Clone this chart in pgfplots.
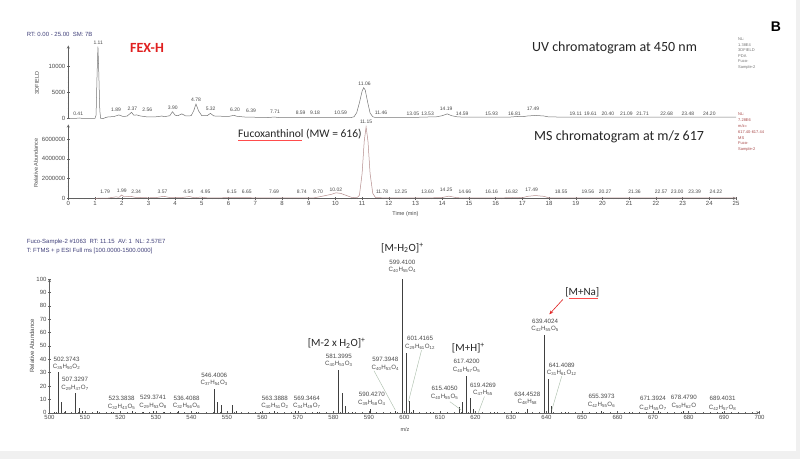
\documentclass[border=0pt]{standalone}
\usepackage{pgfplots}
\pgfplotsset{compat=1.18}
\usetikzlibrary{arrows.meta}
\usepackage{fontspec}
\setmainfont{Liberation Sans}
\newfontfamily\carl{Carlito}
\definecolor{axc}{HTML}{606060}
\definecolor{lbc}{HTML}{4A4A4A}
\definecolor{hdr}{HTML}{40407A}
\definecolor{uvc}{HTML}{757575}
\definecolor{msc}{HTML}{B48C8C}
\definecolor{nlred}{HTML}{A84848}
\definecolor{lead}{HTML}{A8BCA8}
\definecolor{fexred}{HTML}{E02020}
\newcommand\s[1]{\textsubscript{#1}}
\pgfplotsset{
  base/.style={scale only axis, clip=false, anchor=south west,
    axis line style={axc, line width=0.4pt, -},
    tick style={axc, line width=0.4pt},
    tick align=outside, major tick length=2.6pt, minor tick length=1.4pt,
    ticklabel style={font=\fontsize{6}{7}\selectfont, text=lbc, inner sep=1.5pt},
    /pgf/number format/assume math mode=true, scaled ticks=false},
}
\tikzset{
  plab/.style={font=\fontsize{5}{6}\selectfont, text=lbc, inner sep=0pt},
  slab/.style={font=\fontsize{6.2}{7}\selectfont, text=lbc, inner sep=0pt},
  big/.style={font=\carl\fontsize{11}{12}\selectfont, text=black!85, inner sep=0pt},
}
\begin{document}
\begin{tikzpicture}
\path[use as bounding box] (0,0) rectangle (800pt,459pt);
\fill[black!6] (0,0) rectangle (800pt,459pt);
\fill[white] (0,8.3pt) rectangle (796pt,459pt);

% UV chromatogram
\begin{axis}[base, at={(68.3pt,340.7pt)}, width=667.7pt, height=72.8pt,
  xmin=0, xmax=25, ymin=0, ymax=14000,
  axis x line=none, axis y line=left,
  ytick={0,5000,10000}, yticklabels={0,5000,10000}, minor y tick num=4]
\addplot[uvc, line width=0.5pt] coordinates {
(0,0) (0.3,0) (0.41,60) (0.5,0) (1.0,0) (1.04,600) (1.08,9000) (1.11,13800)
(1.14,9000) (1.18,1500) (1.21,0) (1.3,-50) (1.4,150) (1.5,280) (1.7,320)
(1.89,650) (2.05,350) (2.2,420) (2.37,1150) (2.45,600) (2.56,650) (2.7,450)
(2.9,300) (3.2,260) (3.4,350) (3.5,450) (3.6,300) (3.8,500) (3.9,1270)
(4.0,600) (4.1,500) (4.25,850) (4.4,450) (4.6,500) (4.7,1500) (4.78,2750)
(4.88,1400) (5.0,500) (5.2,500) (5.32,950) (5.45,450) (5.7,400) (6.0,350)
(6.2,580) (6.3,400) (6.39,350) (6.6,250) (7.0,200) (7.5,150) (7.71,250)
(7.9,130) (8.59,130) (9.18,120) (10.0,110) (10.59,150) (10.7,300) (10.8,1100)
(10.9,3000) (11.0,5200) (11.06,5900) (11.12,5400) (11.2,3300) (11.3,1000)
(11.4,300) (11.46,200) (11.6,160) (12.5,160) (13.05,190) (13.53,260) (13.8,300)
(14.0,500) (14.19,850) (14.35,500) (14.59,260) (15.0,220) (15.93,220) (16.5,220)
(16.81,350) (17.0,300) (17.2,450) (17.49,550) (17.8,450) (18.0,260) (19.11,220)
(20,220) (21,220) (22,220) (23,220) (24.2,220) (25,220)};
\node[plab] at (axis cs:0.37,830) {0.41};
\node[plab] at (axis cs:1.12,14540) {1.11};
\node[plab] at (axis cs:1.79,1600) {1.89};
\node[plab] at (axis cs:2.40,1850) {2.37};
\node[plab] at (axis cs:2.96,1600) {2.56};
\node[plab] at (axis cs:3.91,1980) {3.90};
\node[plab] at (axis cs:4.78,3520) {4.78};
\node[plab] at (axis cs:5.33,1790) {5.32};
\node[plab] at (axis cs:6.24,1600) {6.20};
\node[plab] at (axis cs:6.84,1400) {6.39};
\node[plab] at (axis cs:7.74,1210) {7.71};
\node[plab] at (axis cs:8.70,1020) {8.59};
\node[plab] at (axis cs:9.24,1020) {9.18};
\node[plab] at (axis cs:10.2,1020) {10.59};
\node[plab] at (axis cs:11.09,6730) {11.06};
\node[plab] at (axis cs:11.71,1080) {11.46};
\node[plab] at (axis cs:12.9,960) {13.05};
\node[plab] at (axis cs:13.45,960) {13.53};
\node[plab] at (axis cs:14.15,1920) {14.19};
\node[plab] at (axis cs:14.75,880) {14.59};
\node[plab] at (axis cs:15.85,960) {15.93};
\node[plab] at (axis cs:16.7,960) {16.81};
\node[plab] at (axis cs:17.4,1850) {17.49};
\node[plab] at (axis cs:19.0,830) {19.11};
\node[plab] at (axis cs:19.55,830) {19.61};
\node[plab] at (axis cs:20.2,830) {20.40};
\node[plab] at (axis cs:20.9,830) {21.09};
\node[plab] at (axis cs:21.5,830) {21.71};
\node[plab] at (axis cs:22.4,830) {22.68};
\node[plab] at (axis cs:23.2,830) {23.48};
\node[plab] at (axis cs:24.0,830) {24.20};
\end{axis}

% MS chromatogram
\begin{axis}[base, at={(68.3pt,260.7pt)}, width=667.7pt, height=73.9pt,
  xmin=0, xmax=25, ymin=0, ymax=7500000,
  axis x line=bottom, axis y line=left,
  xtick={0,1,...,25}, minor x tick num=4,
  ytick={0,2000000,4000000,6000000}, yticklabels={0,2000000,4000000,6000000},
  minor y tick num=4]
\addplot[msc, line width=0.5pt] coordinates {
(1.0,0) (1.5,30000) (1.79,150000) (1.9,100000) (1.99,330000) (2.1,150000)
(2.34,200000) (2.5,100000) (3.0,50000) (3.3,80000) (3.57,200000) (3.8,80000)
(4.2,60000) (4.54,180000) (4.7,60000) (4.95,120000) (5.2,50000) (6.15,60000)
(6.65,60000) (7.69,40000) (8.74,40000) (9.2,50000) (9.4,150000) (9.7,320000)
(9.85,400000) (10.02,560000) (10.2,500000) (10.4,300000) (10.6,100000)
(10.8,50000) (10.9,300000) (11.0,2500000) (11.08,5800000) (11.15,7250000)
(11.22,5800000) (11.3,2500000) (11.4,500000) (11.5,80000) (11.78,50000)
(12.25,40000) (13.6,50000) (14.0,80000) (14.25,220000) (14.5,80000)
(14.66,50000) (16.16,40000) (16.82,100000) (17.0,60000) (17.2,200000)
(17.49,280000) (17.8,200000) (18.0,50000) (18.55,40000) (25,40000)};
\node[plab] at (axis cs:1.38,670000) {1.79};
\node[plab] at (axis cs:2.0,790000) {1.99};
\node[plab] at (axis cs:2.54,670000) {2.34};
\node[plab] at (axis cs:3.53,670000) {3.57};
\node[plab] at (axis cs:4.49,670000) {4.54};
\node[plab] at (axis cs:5.14,670000) {4.95};
\node[plab] at (axis cs:6.12,670000) {6.15};
\node[plab] at (axis cs:6.68,670000) {6.65};
\node[plab] at (axis cs:7.70,670000) {7.69};
\node[plab] at (axis cs:8.74,670000) {8.74};
\node[plab] at (axis cs:9.35,670000) {9.70};
\node[plab] at (axis cs:10.02,900000) {10.02};
\node[plab] at (axis cs:11.15,7780000) {11.15};
\node[plab] at (axis cs:11.75,670000) {11.78};
\node[plab] at (axis cs:12.45,670000) {12.25};
\node[plab] at (axis cs:13.45,670000) {13.60};
\node[plab] at (axis cs:14.15,900000) {14.25};
\node[plab] at (axis cs:14.85,670000) {14.66};
\node[plab] at (axis cs:15.85,670000) {16.16};
\node[plab] at (axis cs:16.6,670000) {16.82};
\node[plab] at (axis cs:17.35,900000) {17.49};
\node[plab] at (axis cs:18.45,670000) {18.55};
\node[plab] at (axis cs:19.45,670000) {19.56};
\node[plab] at (axis cs:20.1,670000) {20.27};
\node[plab] at (axis cs:21.2,670000) {21.36};
\node[plab] at (axis cs:22.2,670000) {22.57};
\node[plab] at (axis cs:22.8,670000) {23.00};
\node[plab] at (axis cs:23.45,670000) {23.39};
\node[plab] at (axis cs:24.25,670000) {24.22};
\end{axis}

% mass spectrum
\begin{axis}[base, at={(49.5pt,46.3pt)}, width=710pt, height=133.7pt,
  xmin=500, xmax=700, ymin=0, ymax=100,
  axis x line=bottom, axis y line=left,
  xtick={500,510,...,700}, minor x tick num=4,
  ytick={0,10,...,100}, minor y tick num=4]
\addplot[ycomb, black!75, line width=0.55pt, mark=none] coordinates {
(501.4,0.8) (502.374,30.2) (503.38,7.8) (504.4,1.5) (507.33,15) (508.33,3.5)
(509.3,1) (513.4,1) (517.3,0.8) (523.38,1) (526.4,0.7) (529.37,1.2)
(532.4,0.7) (536.41,1) (541.4,0.8) (546.40,17.7) (547.40,8) (548.4,6)
(551.5,5.7) (552.5,1.2) (559.4,0.8) (563.39,1.5) (569.35,1.2) (575.4,0.8)
(581.40,32) (582.40,14.5) (583.40,5) (585.4,0.8) (590.43,3) (597.39,1.5)
(599.41,100) (600.41,45) (601.42,8.7) (602.42,2) (607.4,0.8) (615.41,4)
(616.41,8) (617.42,27.5) (618.42,10.8) (619.43,3) (625.4,0.8) (631.4,0.7)
(634.45,3) (639.40,58) (640.41,25) (641.41,5) (645.4,0.8) (655.40,1)
(663.4,0.6) (671.39,1) (678.48,1) (689.40,0.8)};
\draw[lead, line width=0.4pt] (axis cs:591.4,31.4) -- (axis cs:597.4,2);
\draw[lead, line width=0.4pt] (axis cs:604.8,46.8) -- (axis cs:601.1,8.2);
\draw[lead, line width=0.4pt] (axis cs:612.8,8.2) -- (axis cs:616.0,2);
\draw[lead, line width=0.4pt] (axis cs:622.5,12) -- (axis cs:620.8,0);
\draw[lead, line width=0.4pt] (axis cs:644.3,27.4) -- (axis cs:641.5,2);
\node[slab] at (axis cs:504.8,39.9) {502.3743};
\node[slab] at (axis cs:504.8,34.2) {C\s{35}H\s{50}O\s{2}};
\node[slab] at (axis cs:507.2,25.2) {507.3297};
\node[slab] at (axis cs:507.2,18.7) {C\s{29}H\s{47}O\s{7}};
\node[slab] at (axis cs:520.3,10.8) {523.3838};
\node[slab] at (axis cs:520.3,4.5) {C\s{32}H\s{43}O\s{5}};
\node[slab] at (axis cs:529.2,11.2) {529.3741};
\node[slab] at (axis cs:529.2,5) {C\s{29}H\s{53}O\s{8}};
\node[slab] at (axis cs:538.6,11) {536.4088};
\node[slab] at (axis cs:538.6,4.8) {C\s{32}H\s{56}O\s{6}};
\node[slab] at (axis cs:546.4,28.2) {546.4006};
\node[slab] at (axis cs:546.4,22) {C\s{37}H\s{54}O\s{3}};
\node[slab] at (axis cs:563.5,10.8) {563.3888};
\node[slab] at (axis cs:563.5,4.8) {C\s{40}H\s{51}O\s{2}};
\node[slab] at (axis cs:572.5,11) {569.3464};
\node[slab] at (axis cs:572.5,4.8) {C\s{34}H\s{49}O\s{7}};
\node[slab] at (axis cs:581.5,42.4) {581.3995};
\node[slab] at (axis cs:581.5,36.2) {C\s{40}H\s{53}O\s{3}};
\node[slab] at (axis cs:590.8,13.8) {590.4270};
\node[slab] at (axis cs:590.8,7.5) {C\s{39}H\s{58}O\s{4}};
\node[slab] at (axis cs:594.6,39.9) {597.3948};
\node[slab] at (axis cs:594.6,33.7) {C\s{40}H\s{53}O\s{4}};
\node[slab] at (axis cs:599.41,112.7) {599.4100};
\node[slab] at (axis cs:599.41,106.7) {C\s{40}H\s{55}O\s{4}};
\node[slab] at (axis cs:604.4,55.6) {601.4165};
\node[slab] at (axis cs:604.4,49.4) {C\s{29}H\s{61}O\s{12}};
\node[slab] at (axis cs:611.3,18.2) {615.4050};
\node[slab] at (axis cs:611.3,12) {C\s{40}H\s{55}O\s{5}};
\node[slab] at (axis cs:617.5,38.1) {617.4200};
\node[slab] at (axis cs:617.5,31.9) {C\s{40}H\s{57}O\s{5}};
\node[slab] at (axis cs:622.1,20.7) {619.4269};
\node[slab] at (axis cs:622.1,14.5) {C\s{47}H\s{55}};
\node[slab] at (axis cs:634.6,13.8) {634.4528};
\node[slab] at (axis cs:634.6,7.8) {C\s{48}H\s{58}};
\node[slab] at (axis cs:639.6,68.6) {639.4024};
\node[slab] at (axis cs:639.6,62.4) {C\s{42}H\s{55}O\s{5}};
\node[slab] at (axis cs:644.3,35.7) {641.4089};
\node[slab] at (axis cs:644.3,29.5) {C\s{31}H\s{61}O\s{12}};
\node[slab] at (axis cs:655.5,12) {655.3973};
\node[slab] at (axis cs:655.5,5.5) {C\s{42}H\s{55}O\s{6}};
\node[slab] at (axis cs:670,10.5) {671.3924};
\node[slab] at (axis cs:670,4) {C\s{42}H\s{55}O\s{7}};
\node[slab] at (axis cs:678.7,11.2) {678.4790};
\node[slab] at (axis cs:678.7,4.8) {C\s{50}H\s{62}O};
\node[slab] at (axis cs:689.6,10.5) {689.4031};
\node[slab] at (axis cs:689.6,4) {C\s{42}H\s{57}O\s{8}};
\node[big] at (axis cs:580.9,51.9) {[M-2 x H\s{2}O]\textsuperscript{+}};
\node[big] at (axis cs:599.41,123.2) {[M-H\s{2}O]\textsuperscript{+}};
\node[big] at (axis cs:618.0,48.2) {[M+H]\textsuperscript{+}};
\node[big] at (axis cs:650.1,89.8) {[M+Na]};
\draw[red!70, line width=0.4pt] (axis cs:646.3,85.4) -- (axis cs:654.6,85.4);
\draw[fexred, line width=0.6pt, -{Stealth[length=4pt,width=3.2pt]}] (axis cs:644.6,84.7) -- (axis cs:640.8,73.6);
\end{axis}

% free text, in pixel units from the top left
\begin{scope}[x=1pt, y=-1pt, yshift=459pt]
\node[anchor=west, inner sep=0, font=\fontsize{6}{7}\selectfont, text=hdr] at (26.7,34) {RT: 0.00 - 25.00 \ SM: 7B};
\node[anchor=west, inner sep=0, font=\carl\bfseries\fontsize{14}{16}\selectfont, text=fexred] at (130,48.3) {FEX-H};
\node[inner sep=0, font=\bfseries\fontsize{14}{16}\selectfont] at (776,27) {B};
\node[anchor=west, inner sep=0, font=\carl\fontsize{14}{16}\selectfont, text=black!85] at (532,48) {UV chromatogram at 450 nm};
\node[anchor=west, inner sep=0, font=\carl\fontsize{14}{16}\selectfont, text=black!85] at (534,137) {MS chromatogram at m/z 617};
\node[anchor=west, inner sep=0, font=\carl\fontsize{11.5}{13}\selectfont, text=black!85] at (238,134) {Fucoxanthinol (MW = 616)};
\draw[red!70, line width=0.4pt] (238.3,139.8) -- (301.7,139.8);
\node[anchor=north west, align=left, inner sep=0, font=\fontsize{4}{5.5}\selectfont, text=black!55] at (738,38) {NL:\\1.38E4\\3DFIELD\\PDA\\Fuco-\\Sample-2};
\node[anchor=north west, align=left, inner sep=0, font=\fontsize{4}{5.8}\selectfont, text=nlred] at (738,113) {NL:\\7.28E6\\m/z=\\617.40-617.44\\MS\\Fuco-\\Sample-2};
\node[rotate=90, inner sep=0, font=\fontsize{5.5}{6}\selectfont, text=lbc] at (37,83) {3DFIELD};
\node[rotate=90, inner sep=0, font=\fontsize{5.5}{6}\selectfont, text=lbc] at (36,163) {Relative Abundance};
\node[rotate=90, inner sep=0, font=\fontsize{6}{7}\selectfont, text=lbc] at (32,346) {Relative Abundance};
\node[inner sep=0, font=\fontsize{5.5}{6}\selectfont, text=lbc] at (405.5,214) {Time (min)};
\node[inner sep=0, font=\fontsize{5.5}{6}\selectfont, text=lbc] at (405,430) {m/z};
\node[anchor=west, inner sep=0, font=\fontsize{6}{7}\selectfont, text=hdr] at (26.7,242) {Fuco-Sample-2 \#1063 \ RT: 11.15 \ AV: 1 \ NL: 2.57E7};
\node[anchor=west, inner sep=0, font=\fontsize{6}{7}\selectfont, text=hdr] at (26.7,251) {T: FTMS + p ESI Full ms [100.0000-1500.0000]};
\end{scope}
\end{tikzpicture}
\end{document}
